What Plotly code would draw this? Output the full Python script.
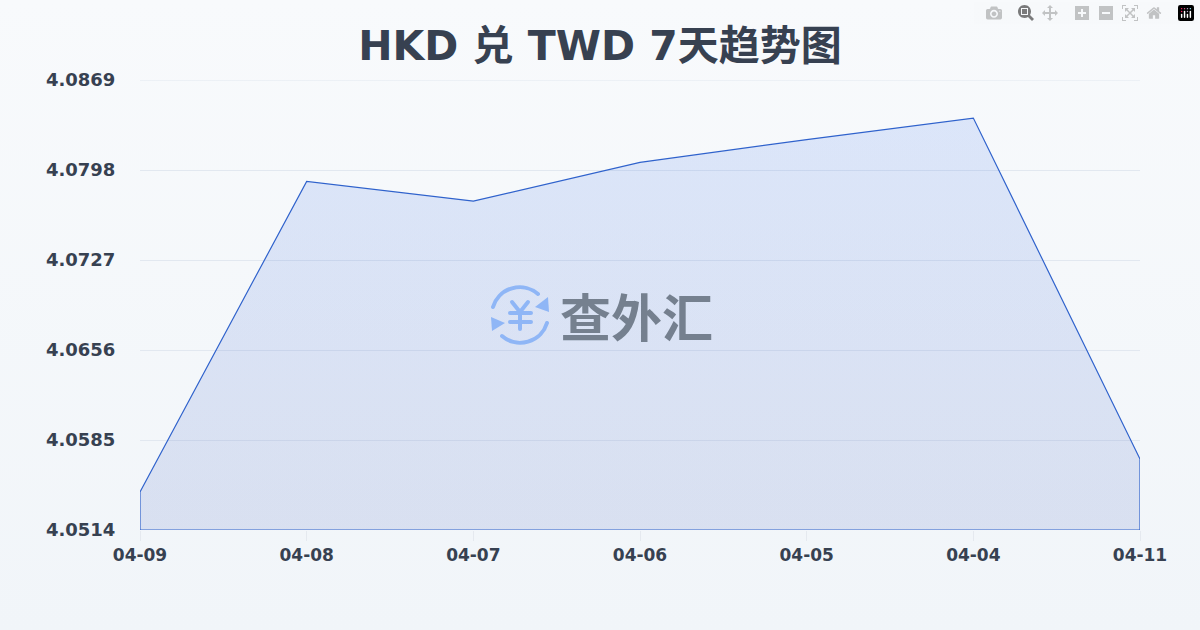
import base64
import plotly.graph_objects as go

TITLE = "HKD 兑 TWD 7天趋势图"
WATERMARK = "查外汇"
dates = ["04-09", "04-08", "04-07", "04-06", "04-05", "04-04", "04-11"]
rates = [4.0544, 4.0789, 4.07735, 4.0804, 4.0822, 4.0839, 4.0570]
y_ticks = [4.0514, 4.0585, 4.0656, 4.0727, 4.0798, 4.0869]
y_min, y_max = y_ticks[0], y_ticks[-1]

FONT = "'DejaVu Sans', 'Noto Sans CJK SC', sans-serif"
INK = "#374151"

bg_svg = (
    '<svg xmlns="http://www.w3.org/2000/svg" width="1200" height="630" preserveAspectRatio="none">'
    '<defs><linearGradient id="g" x1="0" y1="0" x2="0" y2="1">'
    '<stop offset="0" stop-color="#f8fafc"/><stop offset="1" stop-color="#f1f5f9"/>'
    '</linearGradient></defs><rect width="1200" height="630" fill="url(#g)"/></svg>'
)
logo_svg = (
    '<svg xmlns="http://www.w3.org/2000/svg" width="60" height="60" viewBox="0 0 60 60">'
    '<g fill="none" stroke="#8fb6f6" stroke-width="4" stroke-linecap="round">'
    '<path d="M3 22 A28 28 0 0 1 48 9"/>'
    '<path d="M57 38 A28 28 0 0 1 12 51"/>'
    '<path d="M22 17 L30 27 L38 17 M20 28 H41 M20 37 H41 M30 27 V44"/>'
    '</g><g fill="#8fb6f6"><path d="M58 12 L59 27 L45 22 Z"/><path d="M1 32 L15 38 L2 46 Z"/></g></svg>'
)


def uri(svg):
    return "data:image/svg+xml;base64," + base64.b64encode(svg.encode()).decode()


fig = go.Figure()
fig.add_trace(go.Scatter(
    x=dates + [dates[-1], dates[0], dates[0]],
    y=rates + [y_min, y_min, rates[0]],
    mode="lines",
    line=dict(color="#2f62cc", width=1.2),
    fill="toself",
    fillgradient=dict(type="vertical",
                      colorscale=[[0, "rgba(30,64,175,0.12)"], [1, "rgba(37,99,235,0.13)"]]),
    hoverinfo="skip",
))
fig.update_layout(
    width=1200, height=630,
    margin=dict(l=140, r=60, t=80, b=100),
    autosize=False,
    showlegend=False,
    paper_bgcolor="#f5f7fa",
    plot_bgcolor="rgba(0,0,0,0)",
    font=dict(family=FONT, color=INK),
    title=dict(text=f"<b>{TITLE}</b>", font=dict(size=41, color=INK, family=FONT),
               x=0.5, xanchor="center", y=0.928, yanchor="middle"),
    xaxis=dict(type="category", categoryorder="array", categoryarray=dates,
               range=[0, len(dates) - 1], showgrid=False, zeroline=False, showline=False,
               ticks="outside", ticklen=10, tickcolor="#e5e9ef", tickwidth=1,
               tickfont=dict(size=17, color=INK, family=FONT, weight="bold")),
    yaxis=dict(range=[y_min, y_max], tickvals=y_ticks, ticktext=[f"{v:.4f}" for v in y_ticks],
               showgrid=True, gridcolor="#e2e8f0", gridwidth=1, zeroline=False, showline=False,
               ticks="outside", ticklen=20, tickcolor="rgba(0,0,0,0)",
               tickfont=dict(size=18, color=INK, family=FONT, weight="bold")),
    shapes=[dict(type="line", xref="paper", yref="y", x0=0, x1=1, y0=y_max, y1=y_max,
                 line=dict(color="#e2e8f0", width=1), layer="below")],
    images=[
        dict(source=uri(bg_svg), xref="paper", yref="paper", x=-140/1000, y=1 + 80/450,
             sizex=1200/1000, sizey=630/450, sizing="stretch", xanchor="left", yanchor="top", layer="below"),
        dict(source=uri(logo_svg), xref="paper", yref="paper", x=(490-140)/1000, y=1 - (285-80)/450,
             sizex=60/1000, sizey=60/450, sizing="contain", xanchor="left", yanchor="top", layer="above"),
    ],
    annotations=[dict(text=f"<b>{WATERMARK}</b>", xref="paper", yref="paper",
                      x=(636-140)/1000, y=1 - (315-80)/450, showarrow=False,
                      font=dict(size=51, color="#75808f", family="'Noto Sans CJK SC', sans-serif"))],
)
fig.write_html("out.html",
               post_script="document.body.style.margin='0';document.body.style.overflow='hidden';")
